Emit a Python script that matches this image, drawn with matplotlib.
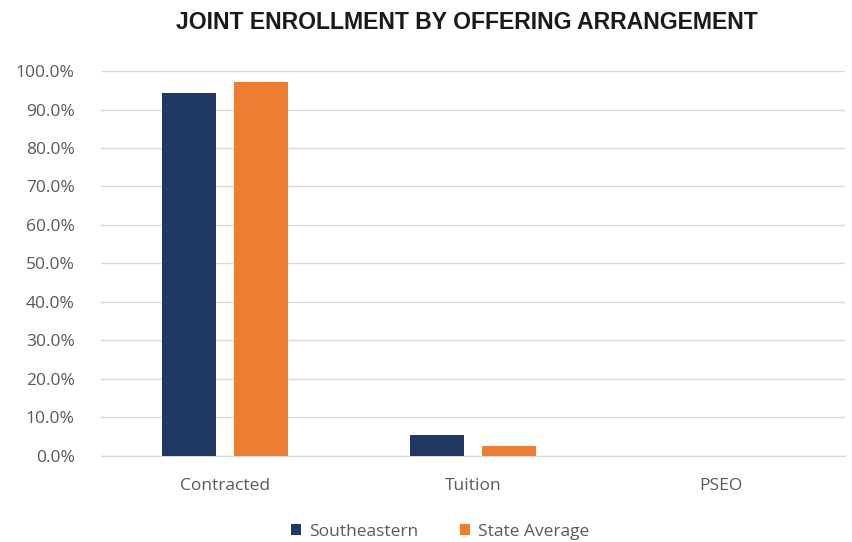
import matplotlib
matplotlib.use("Agg")
import matplotlib.pyplot as plt
import numpy as np
from matplotlib.ticker import FuncFormatter, MultipleLocator

categories = ["Contracted", "Tuition", "PSEO"]
southeastern = [94.4, 5.5, 0.0]
state_average = [97.2, 2.7, 0.0]
series_names = ["Southeastern", "State Average"]

plt.rcParams['font.family'] = ['Open Sans', 'DejaVu Sans']

fig = plt.figure(figsize=(8.53, 5.42), dpi=100)
ax = fig.add_axes([0.1184, 0.1587, 0.8722, 0.7103])

x = np.arange(len(categories))
w = 0.22
off = 0.145
ax.bar(x - off, southeastern, w, color="#203864", label=series_names[0], zorder=3)
ax.bar(x + off, state_average, w, color="#ED7D31", label=series_names[1], zorder=3)

ax.set_xlim(-0.5, len(categories) - 0.5)
ax.set_ylim(0, 100)
ax.yaxis.set_major_locator(MultipleLocator(10))
ax.yaxis.set_major_formatter(FuncFormatter(lambda v, p: f"{v:.1f}%"))
ax.grid(axis="y", color="#D9D9D9", linewidth=1, zorder=0)
for s in ["top", "right", "left"]:
    ax.spines[s].set_visible(False)
ax.spines["bottom"].set_color("#D9D9D9")
ax.spines["bottom"].set_linewidth(1)
ax.set_xticks(x)
ax.set_xticklabels(categories)
ax.tick_params(axis="both", length=0, labelsize=12.5, colors="#595959")
ax.tick_params(axis="y", pad=19)
ax.tick_params(axis="x", pad=16)

fig.text(0.547, 0.958, "JOINT ENROLLMENT BY OFFERING ARRANGEMENT", ha="center", va="center",
         fontsize=16.6, fontweight="bold", color="#1a1a1a", family=["Liberation Sans", "DejaVu Sans"])

fig.legend(loc="center", bbox_to_anchor=(0.516, 0.019), ncol=2, frameon=False,
           fontsize=12.5, labelcolor="#595959", handlelength=0.6, handleheight=0.6,
           columnspacing=2.4, handletextpad=0.45)

fig.savefig("out.png", dpi=100)
